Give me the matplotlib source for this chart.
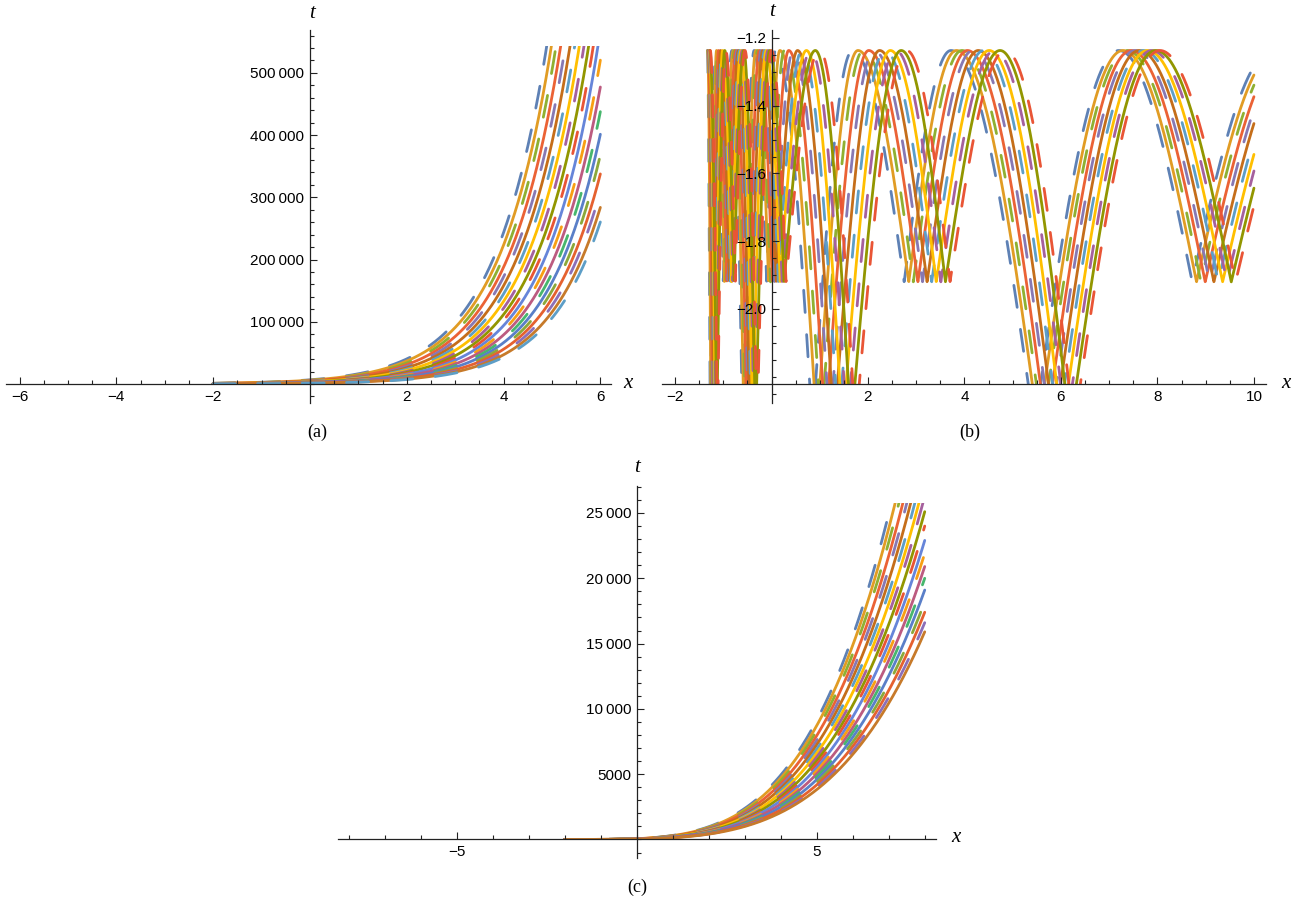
import numpy as np
import matplotlib
matplotlib.use("Agg")
import matplotlib.pyplot as plt
from matplotlib.patches import Rectangle
from matplotlib.ticker import FixedLocator

plt.rcParams['font.family'] = ['Liberation Sans', 'DejaVu Sans']
plt.rcParams['lines.scale_dashes'] = False

# Mathematica default palette (ColorData[97]), curves cycle through it
palette = ['#5E81B5', '#E19C24', '#8FB032', '#EB6235', '#8778B3', '#C56E1A',
           '#5D9EC7', '#FFBF00', '#A5609D', '#929600', '#E95536', '#6685D9',
           '#F89F13', '#BC5B80', '#47B66D', '#5A7FC8', '#8CA83A', '#E5612F',
           '#8C6FB8', '#C77A2A', '#5D9EC7']

# ---- panel (a): t = A_k * exp(rate * x)
a_coef = [6650, 6098, 5592, 5128, 4702, 4312, 3954, 3626, 3325, 3049, 2796,
          2564, 2351, 2156, 1977, 1813, 1663, 1525, 1398, 1282, 1176]
a_rate = 0.9
a_x_range = (-2.0, 6.0)
a_t_max = 543000

# ---- panel (b): wave curves, extrema positions of first and last curve
# P = crest, S = shallow trough, D = deep trough (below the axis)
b_kinds = ['P', 'D', 'P', 'S', 'P', 'D', 'P', 'S', 'P',
           'D', 'P', 'S', 'P', 'D', 'P', 'S', 'P']
b_first = [-1.33, -1.27, -1.16, -1.00, -0.82, -0.60, -0.36, -0.10, 0.08,
           0.85, 1.68, 2.75, 3.72, 5.45, 7.20, 8.72, 10.4]
b_last = [-1.27, -1.12, -0.95, -0.75, -0.55, -0.30, 0.00, 0.30, 1.00,
          1.74, 2.80, 3.70, 4.85, 6.27, 8.05, 9.62, 11.4]
b_levels = {'P': -1.237, 'S': -1.92, 'D': -2.35}
b_count = 11
b_x_end = 10.0
b_t_axis = -2.222

# ---- panel (c): t = c_k * (x + 2)^4
c_coef = [3.80, 3.63, 3.47, 3.31, 3.16, 3.02, 2.88, 2.75, 2.63, 2.51,
          2.40, 2.29, 2.19, 2.09, 2.00, 1.91, 1.82, 1.74, 1.66, 1.59]
c_power = 4
c_x_range = (-2.0, 8.0)
c_t_max = 25790

W, H = 1300, 900
fig = plt.figure(figsize=(13, 9), dpi=100)


def make_axes(px_left, px_top, px_right, px_bottom):
    return fig.add_axes([px_left / W, 1 - px_bottom / H,
                         (px_right - px_left) / W, (px_bottom - px_top) / H])


def style_axes(ax, x_cross, y_cross):
    for s in ['top', 'right']:
        ax.spines[s].set_visible(False)
    ax.spines['left'].set_position(('data', x_cross))
    ax.spines['bottom'].set_position(('data', y_cross))
    for s in ['left', 'bottom']:
        ax.spines[s].set_color('#222222')
        ax.spines[s].set_linewidth(0.9)
        ax.spines[s].set_zorder(5)
    ax.set_axisbelow(False)
    ax.patch.set_visible(False)
    ax.tick_params(which='both', direction='in', color='#222222', width=0.8,
                   labelsize=11, pad=4)
    ax.tick_params(which='major', length=5)
    ax.tick_params(which='minor', length=3)


def draw(ax, x, t, k, clip):
    ls = (0, (16, 16)) if k % 2 == 0 else '-'
    line, = ax.plot(x, t, color=palette[k % len(palette)], lw=2.0,
                    linestyle=ls, dash_capstyle='round', solid_capstyle='round')
    line.set_clip_path(clip)


def fmt(v):
    s = f"{abs(int(v))}"
    if len(s) > 4:
        s = s[:-3] + '\u2009' + s[-3:]
    return ('\u2212' if v < 0 else '') + s


# ---------------- (a)
ax = make_axes(6, 30, 611, 403)
ax.set_xlim(-6.28, 6.22)
ax.set_ylim(-30600, 569000)
clip = Rectangle((-6.28, 0), 12.5, a_t_max, transform=ax.transData)
xa = np.linspace(a_x_range[0], a_x_range[1], 3000)
for k, A in enumerate(a_coef):
    draw(ax, xa, A * np.exp(a_rate * xa), k, clip)
style_axes(ax, 0, 0)
xt = [-6, -4, -2, 2, 4, 6]
ax.xaxis.set_major_locator(FixedLocator(xt))
ax.set_xticklabels([fmt(v) for v in xt])
ax.xaxis.set_minor_locator(FixedLocator(np.arange(-6, 6.01, 0.5)))
yt = [100000, 200000, 300000, 400000, 500000]
ax.yaxis.set_major_locator(FixedLocator(yt))
ax.set_yticklabels([fmt(v) for v in yt])
ax.yaxis.set_minor_locator(FixedLocator(np.arange(-20000, 560001, 20000)))

# ---------------- (b)
ax = make_axes(662, 30.5, 1266, 403.5)
ax.set_xlim(-2.27, 10.25)
ax.set_ylim(-2.279, -1.178)
clip = Rectangle((-2.27, b_t_axis), 12.6, 1.0, transform=ax.transData)
first = np.array(b_first)
last = np.array(b_last)
for k in range(b_count):
    ext = first + (last - first) * k / (b_count - 1)
    xb = np.linspace(ext[0], b_x_end, 6000)
    tb = np.empty_like(xb)
    for i in range(len(ext) - 1):
        m = (xb >= ext[i]) & (xb <= ext[i + 1])
        u = (xb[m] - ext[i]) / (ext[i + 1] - ext[i])
        if b_kinds[i] == 'P':
            low = b_levels[b_kinds[i + 1]]
            tb[m] = low + (b_levels['P'] - low) * np.cos(np.pi / 2 * u)
        else:
            low = b_levels[b_kinds[i]]
            tb[m] = low + (b_levels['P'] - low) * np.sin(np.pi / 2 * u)
    draw(ax, xb, tb, k, clip)
style_axes(ax, 0, b_t_axis)
xt = [-2, 2, 4, 6, 8, 10]
ax.xaxis.set_major_locator(FixedLocator(xt))
ax.set_xticklabels([fmt(v) for v in xt])
ax.xaxis.set_minor_locator(FixedLocator(np.arange(-2, 10.01, 0.5)))
yt = [-2.0, -1.8, -1.6, -1.4, -1.2]
ax.yaxis.set_major_locator(FixedLocator(yt))
ax.set_yticklabels(['\u2212' + f"{abs(v):.1f}" for v in yt])
ax.yaxis.set_minor_locator(FixedLocator(np.arange(-2.25, -1.17, 0.05)))

# ---------------- (c)
ax = make_axes(337.5, 485.7, 935.9, 858.4)
ax.set_xlim(-8.31, 8.31)
ax.set_ylim(-1450, 27090)
clip = Rectangle((-8.31, 0), 16.62, c_t_max, transform=ax.transData)
xc = np.linspace(c_x_range[0], c_x_range[1], 3000)
for k, c in enumerate(c_coef):
    draw(ax, xc, c * (xc + 2) ** c_power, k, clip)
style_axes(ax, 0, 0)
xt = [-5, 5]
ax.xaxis.set_major_locator(FixedLocator(xt))
ax.set_xticklabels([fmt(v) for v in xt])
ax.xaxis.set_minor_locator(FixedLocator(np.arange(-8, 8.01, 1)))
yt = [5000, 10000, 15000, 20000, 25000]
ax.yaxis.set_major_locator(FixedLocator(yt))
ax.set_yticklabels([fmt(v) for v in yt])
ax.yaxis.set_minor_locator(FixedLocator(np.arange(-1000, 27001, 1000)))

# axis names and panel captions
serif = ['Liberation Serif', 'DejaVu Serif']
for px, py in [(628, 383), (1286, 383), (956, 838)]:
    fig.text(px / W, 1 - py / H, 'x', family=serif, style='italic', fontsize=15,
             ha='center', va='center')
for px, py in [(312, 13), (772, 12), (637, 468)]:
    fig.text(px / W, 1 - py / H, 't', family=serif, style='italic', fontsize=15,
             ha='center', va='center')
for px, py, s in [(317, 432, '(a)'), (970, 432, '(b)'), (637, 887, '(c)')]:
    fig.text(px / W, 1 - py / H, s, family=serif, fontsize=13,
             ha='center', va='center')

fig.savefig('out.png', dpi=100)
